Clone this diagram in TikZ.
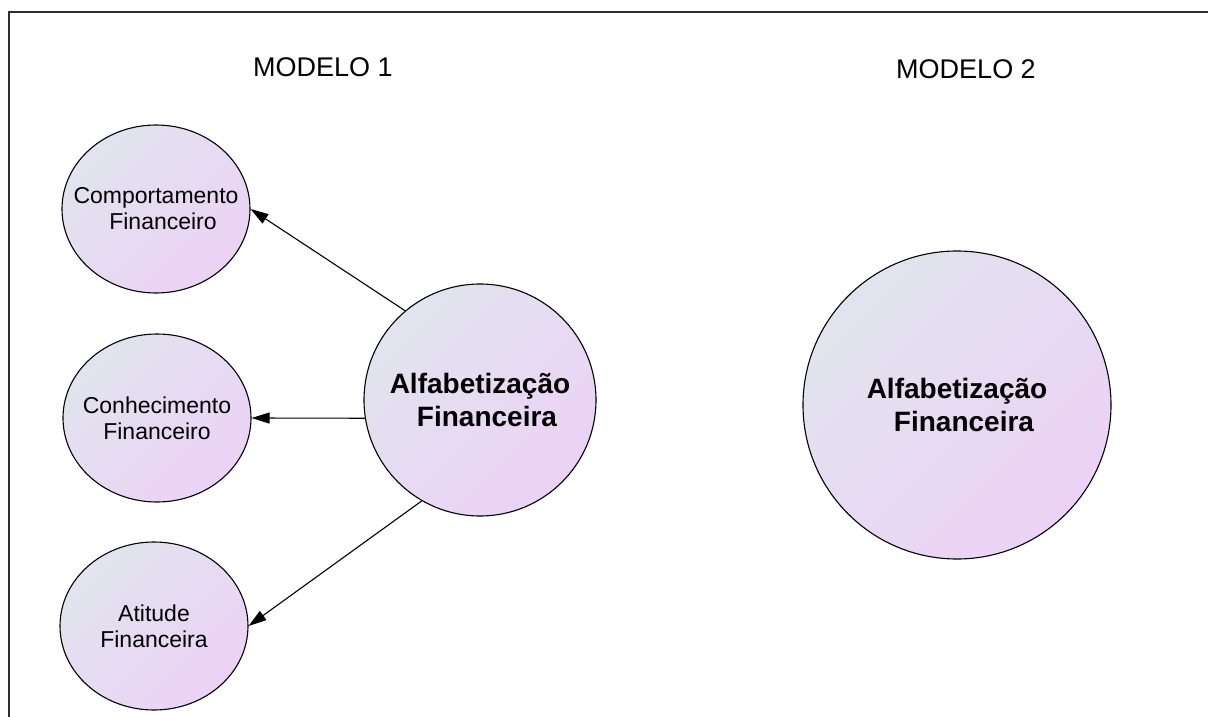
\documentclass[tikz,border=0pt]{standalone}
\usepackage{fontspec}
\setmainfont{Liberation Sans}
\usetikzlibrary{shapes.geometric,arrows.meta}

\definecolor{fillA}{RGB}{225,228,238}
\definecolor{fillB}{RGB}{236,210,246}
\definecolor{framegray}{RGB}{45,45,45}

\begin{document}
\begin{tikzpicture}[x=1pt,y=-1pt,
  bubble/.style={draw=black, line width=1.1pt, top color=fillA, bottom color=fillB,
                 shading angle=45, align=center},
  small/.style={bubble, ellipse, inner ysep=0pt, inner xsep=-40pt,
                minimum width=188pt, minimum height=168pt,
                font=\fontsize{23}{26}\selectfont},
  big/.style={bubble, circle, inner sep=0pt, font=\fontsize{28}{33}\selectfont\bfseries},
  link/.style={line width=1.1pt, -{Triangle[length=18pt,width=11pt]}},
  heading/.style={font=\fontsize{27}{32}\selectfont, anchor=base},
  frameline/.style={draw=framegray, line width=1.6pt}]

\useasboundingbox (0,0) rectangle (1208,717);

% open frame: left and top edges
\coordinate (fbl) at (9,717);
\coordinate (ftl) at (9,12);
\coordinate (ftr) at (1208,12);
\draw[frameline] (fbl) -- (ftl) -- (ftr);

% headings
\node[heading] (m1) at (323,77) {MODELO 1};
\node[heading] (m2) at (966,78) {MODELO 2};

% model 1
\node[small] (comp) at (156,209) {Comportamento\\\hspace*{14pt}Financeiro};
\node[small] (conh) at (157,418) {Conhecimento\\Financeiro};
\node[small] (atit) at (154,626) {Atitude\\Financeira};
\node[big, minimum size=232pt] (cent) at (480,400) {Alfabetização\\\hspace*{14pt}Financeira};

\draw[link] (cent.130) -- (comp.east);
\draw[link] (cent.189) -- (conh.east);
\draw[link] (cent.240) -- (atit.east);

% model 2
\node[big, minimum size=308pt] (single) at (957,405) {Alfabetização\\\hspace*{14pt}Financeira};

\end{tikzpicture}
\end{document}
